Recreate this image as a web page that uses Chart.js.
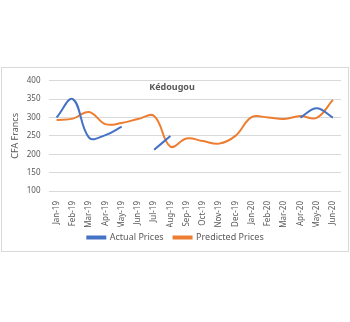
<!DOCTYPE html>
<html>
<head>
<meta charset="utf-8">
<script src="https://cdn.jsdelivr.net/npm/chart.js@4"></script>
<style>
  body { margin:0; background:#fff; width:350px; height:322px; position:relative; }
  #box { position:absolute; left:1px; top:67px; width:346px; height:183px; border:1px solid #d9d9d9; }
</style>
</head>
<body>
<div id="box"><canvas id="myChart" width="346" height="183"></canvas></div>
<script>
var months = ['Jan-19','Feb-19','Mar-19','Apr-19','May-19','Jun-19','Jul-19','Aug-19','Sep-19','Oct-19','Nov-19','Dec-19',
              'Jan-20','Feb-20','Mar-20','Apr-20','May-20','Jun-20'];
var actual = [300, 350, 245, 252, 275, null, 212, 250, null, null, null, null, null, null, null, 300, 325, 300];
var predicted = [293, 297, 315, 282, 285, 296, 304, 221, 243, 236, 229, 250, 301, 300, 296, 304, 299, 348];
var yTicks = [100, 150, 200, 250, 300, 350, 400];

var ctx = document.getElementById('myChart').getContext('2d');
var fnt = '"Noto Sans", sans-serif';

// title sits over the plot area, like in the excel chart
var titlePlugin = {
  id: 'overTitle',
  afterInit: function(chart){
    // keep the legend strip short so the plot keeps its height
    var fit = chart.legend.fit;
    chart.legend.fit = function(){ fit.call(this); this.height = 24; };
  },
  afterLayout: function(chart){
    chart.legend.top -= 4;
    chart.legend.bottom -= 4;
  },
  afterDraw: function(chart){
    var c = chart.ctx;
    c.save();
    c.font = 'bold 9px ' + fnt;
    c.fillStyle = '#595959';
    c.textAlign = 'center';
    c.textBaseline = 'middle';
    c.fillText('Kédougou', 170, 19);
    c.restore();
  }
};

var chart = new Chart(ctx, {
  type: 'line',
  data: {
    labels: months,
    datasets: [{
      label: 'Actual Prices',
      data: actual,
      borderColor: '#4472C4',
      backgroundColor: '#4472C4',
      borderWidth: 2,
      pointRadius: 0,
      tension: 0.4,
      spanGaps: false
    }, {
      label: 'Predicted Prices',
      data: predicted,
      borderColor: '#ED7D31',
      backgroundColor: '#ED7D31',
      borderWidth: 2,
      pointRadius: 0,
      tension: 0.4
    }]
  },
  options: {
    responsive: false,
    animation: false,
    layout: { padding: { top: 9, right: 7, left: 8, bottom: 0 } },
    plugins: {
      legend: {
        position: 'bottom',
        labels: { boxWidth: 18, boxHeight: 2, padding: 10, color: '#595959', font: { family: fnt, size: 9 } }
      },
      tooltip: { enabled: false }
    },
    scales: {
      x: {
        offset: true,
        grid: { display: false },
        border: { display: false },
        ticks: { minRotation: 90, maxRotation: 90, autoSkip: false, color: '#595959', font: { family: fnt, size: 8 }, padding: 2 },
        afterFit: function(s){ s.height = 36; }
      },
      y: {
        min: 100, max: 400,
        afterBuildTicks: function(s){ s.ticks = yTicks.map(function(v){ return { value: v }; }); },
        grid: { color: '#d9d9d9', drawTicks: false },
        border: { display: false },
        ticks: { color: '#595959', font: { family: fnt, size: 8 }, padding: 8 },
        title: { display: true, text: 'CFA Francs', color: '#595959', font: { family: fnt, size: 9 }, padding: 0 },
        afterFit: function(s){ s.width = 38.5; }
      }
    }
  },
  plugins: [titlePlugin]
});
</script>
</body>
</html>
